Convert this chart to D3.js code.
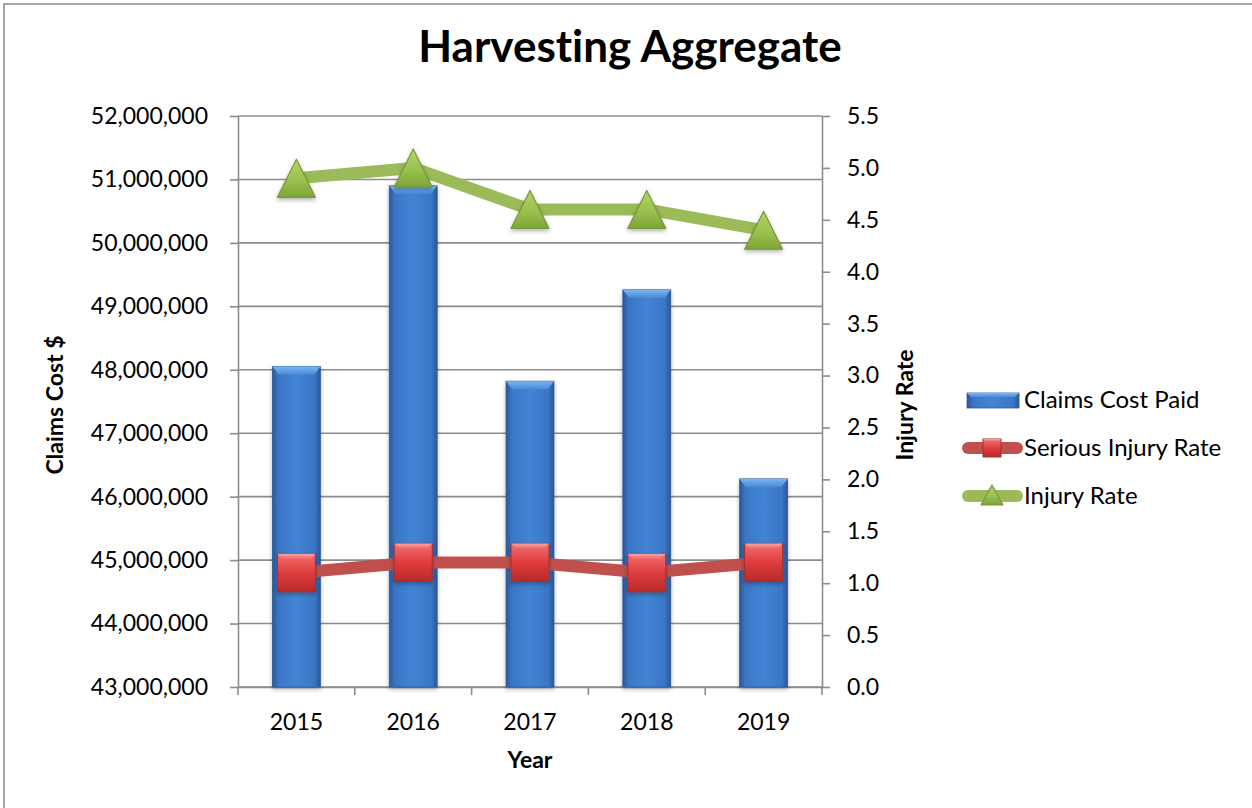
<!DOCTYPE html>
<html>
<head>
<meta charset="utf-8">
<title>Harvesting Aggregate</title>
<script src="https://cdnjs.cloudflare.com/ajax/libs/d3/7.8.5/d3.min.js"></script>
<style>
  html, body { margin: 0; padding: 0; background: #fff; }
  svg { display: block; font-family: Lato, "Open Sans", sans-serif; font-variant-ligatures: none; }
</style>
</head>
<body>
<div id="chart"></div>
<script>
// Chart data
var years = ["2015", "2016", "2017", "2018", "2019"];
var claimsCost = [48050000, 50900000, 47820000, 49260000, 46280000];
var seriousRate = [1.1, 1.2, 1.2, 1.1, 1.2];
var injuryRate = [4.9, 5.0, 4.6, 4.6, 4.4];

// Tick labels
var costTicks = [43000000, 44000000, 45000000, 46000000, 47000000, 48000000, 49000000, 50000000, 51000000, 52000000];
var rateTicks = [0, 0.5, 1.0, 1.5, 2.0, 2.5, 3.0, 3.5, 4.0, 4.5, 5.0, 5.5];

var legendNames = ["Claims Cost Paid", "Serious Injury Rate", "Injury Rate"];

var width = 1252,
    height = 808;

// plot area edges
var plotLeft = 238, plotRight = 822, plotTop = 116, plotBottom = 687;
var gridColor = "#8c8c8c";

var svg = d3.select("#chart")
            .append("svg")
            .attr("width", width)
            .attr("height", height);

// Gradients and shadow
var defs = svg.append("defs");

function linGrad(id, horizontal, stops) {
    var g = defs.append("linearGradient")
                .attr("id", id)
                .attr("x1", 0).attr("y1", 0)
                .attr("x2", horizontal ? 1 : 0)
                .attr("y2", horizontal ? 0 : 1);
    stops.forEach(function(s) {
        g.append("stop").attr("offset", s[0]).attr("stop-color", s[1]);
    });
}

linGrad("barGrad", true, [[0, "#2a5897"], [0.12, "#3a76c6"], [0.5, "#4384d4"], [0.88, "#3a76c6"], [1, "#2a5594"]]);
linGrad("barTop", false, [[0, "#7cb4f0"], [1, "#4a8ad8"]]);
linGrad("redGrad", false, [[0, "#f47070"], [0.5, "#de3c3c"], [1, "#b82a2a"]]);
linGrad("redTop", false, [[0, "#f9a4a4"], [1, "#ee6464"]]);
linGrad("greenGrad", false, [[0, "#b4d466"], [0.6, "#98bf4c"], [1, "#7ea436"]]);

var shadow = defs.append("filter")
                 .attr("id", "shadow")
                 .attr("x", "-30%").attr("y", "-30%")
                 .attr("width", "160%").attr("height", "160%");
shadow.append("feDropShadow")
      .attr("dx", 0).attr("dy", 2)
      .attr("stdDeviation", 2)
      .attr("flood-color", "#000")
      .attr("flood-opacity", 0.3);

// Outer chart border
svg.append("rect")
   .attr("x", 4).attr("y", 4)
   .attr("width", width + 20).attr("height", height + 20)
   .attr("fill", "none")
   .attr("stroke", "#8a8a8a")
   .attr("stroke-width", 1.5);

// Scales
var x = d3.scaleBand()
          .domain(years)
          .range([plotLeft, plotRight])
          .paddingInner(0.59)
          .paddingOuter(0.295);

var xEdge = d3.scaleLinear()
              .domain([0, years.length])
              .range([plotLeft, plotRight]);

var yCost = d3.scaleLinear()
              .domain([43000000, 52000000])
              .range([plotBottom, plotTop]);

var yRate = d3.scaleLinear()
              .domain([0, 5.5])
              .range([plotBottom, plotTop]);

// Gridlines
svg.append("g")
   .selectAll("line")
   .data(costTicks)
   .enter().append("line")
   .attr("x1", plotLeft).attr("x2", plotRight)
   .attr("y1", d => yCost(d)).attr("y2", d => yCost(d))
   .attr("stroke", gridColor)
   .attr("stroke-width", 1.6);

// Title
svg.append("text")
   .attr("x", 630).attr("y", 62)
   .attr("text-anchor", "middle")
   .attr("font-size", 44)
   .attr("font-weight", "bold")
   .text("Harvesting Aggregate");

// Axes
function styleAxis(g) {
    g.attr("font-family", null);
    g.selectAll("path, line").attr("stroke", gridColor).attr("stroke-width", 1.6);
    g.selectAll("text").attr("font-size", 23).attr("fill", "#000");
}

svg.append("g")
   .attr("transform", "translate(" + plotLeft + ",0)")
   .call(d3.axisLeft(yCost)
           .tickValues(costTicks)
           .tickFormat(d3.format(","))
           .tickSize(8)
           .tickSizeOuter(0)
           .tickPadding(22))
   .call(styleAxis);

svg.append("g")
   .attr("transform", "translate(" + plotRight + ",0)")
   .call(d3.axisRight(yRate)
           .tickValues(rateTicks)
           .tickFormat(d3.format(".1f"))
           .tickSize(8)
           .tickSizeOuter(0)
           .tickPadding(17))
   .call(styleAxis);

// Bottom axis: labels at categories, ticks between them
svg.append("g")
   .attr("transform", "translate(0," + plotBottom + ")")
   .call(d3.axisBottom(x)
           .tickSize(0)
           .tickSizeOuter(0)
           .tickPadding(27))
   .call(styleAxis);

svg.append("g")
   .selectAll("line")
   .data(d3.range(years.length + 1))
   .enter().append("line")
   .attr("x1", d => xEdge(d)).attr("x2", d => xEdge(d))
   .attr("y1", plotBottom).attr("y2", plotBottom + 8)
   .attr("stroke", gridColor)
   .attr("stroke-width", 1.6);

// Axis titles
svg.append("text")
   .attr("transform", "translate(55,405) rotate(-90)")
   .attr("text-anchor", "middle")
   .attr("dy", "0.35em")
   .attr("font-size", 23)
   .attr("font-weight", "bold")
   .text("Claims Cost $");

svg.append("text")
   .attr("transform", "translate(905,405) rotate(-90)")
   .attr("text-anchor", "middle")
   .attr("dy", "0.35em")
   .attr("font-size", 23)
   .attr("font-weight", "bold")
   .text("Injury Rate");

svg.append("text")
   .attr("x", 530).attr("y", 768)
   .attr("text-anchor", "middle")
   .attr("font-size", 23)
   .attr("font-weight", "bold")
   .text("Year");

// Bars
var bw = x.bandwidth();
var bars = svg.append("g")
              .selectAll("g")
              .data(years)
              .enter().append("g")
              .attr("filter", "url(#shadow)");

bars.append("rect")
    .attr("x", d => x(d))
    .attr("y", (d, i) => yCost(claimsCost[i]))
    .attr("width", bw)
    .attr("height", (d, i) => plotBottom - yCost(claimsCost[i]))
    .attr("fill", "url(#barGrad)")
    .attr("stroke", "#2b5a98")
    .attr("stroke-width", 0.8);

bars.append("path")
    .attr("d", function(d, i) {
        var x0 = x(d), y0 = yCost(claimsCost[i]);
        return "M" + x0 + "," + y0 + "L" + (x0 + bw) + "," + y0 +
               "L" + (x0 + bw - 6) + "," + (y0 + 8) + "L" + (x0 + 6) + "," + (y0 + 8) + "Z";
    })
    .attr("fill", "url(#barTop)");

// Lines
var cx = d => x(d) + bw / 2;

var rateLine = d3.line()
                 .x((d, i) => cx(years[i]))
                 .y(d => yRate(d));

svg.append("path")
   .datum(seriousRate)
   .attr("d", rateLine)
   .attr("fill", "none")
   .attr("stroke", "#c0504d")
   .attr("stroke-width", 12)
   .attr("stroke-linejoin", "round");

svg.append("path")
   .datum(injuryRate)
   .attr("d", rateLine)
   .attr("fill", "none")
   .attr("stroke", "#9bbb59")
   .attr("stroke-width", 12)
   .attr("stroke-linejoin", "round");

// Markers
function squareMarker(g, px, py, s) {
    g.append("rect")
     .attr("x", px - s / 2).attr("y", py - s / 2)
     .attr("width", s).attr("height", s)
     .attr("fill", "url(#redGrad)")
     .attr("stroke", "#a33030")
     .attr("stroke-width", 1);
    var b = s * 0.14;
    g.append("path")
     .attr("d", "M" + (px - s / 2) + "," + (py - s / 2) + "h" + s +
                "l" + (-b) + "," + b + "h" + (-(s - 2 * b)) + "Z")
     .attr("fill", "url(#redTop)");
}

function triangleMarker(g, px, py, w, h) {
    g.append("path")
     .attr("d", "M" + px + "," + (py - h / 2) +
                "L" + (px + w / 2) + "," + (py + h / 2) +
                "L" + (px - w / 2) + "," + (py + h / 2) + "Z")
     .attr("fill", "url(#greenGrad)")
     .attr("stroke", "#76983a")
     .attr("stroke-width", 1.2)
     .attr("stroke-linejoin", "round");
}

var markers = svg.append("g").attr("filter", "url(#shadow)");
seriousRate.forEach(function(v, i) {
    squareMarker(markers, cx(years[i]), yRate(v), 38);
});
injuryRate.forEach(function(v, i) {
    triangleMarker(markers, cx(years[i]), yRate(v), 38, 38);
});

// Legend
var legend = svg.append("g");
var rowY = [400, 448, 496];

legend.append("rect")
      .attr("x", 967).attr("y", rowY[0] - 7)
      .attr("width", 52).attr("height", 15)
      .attr("fill", "url(#barGrad)")
      .attr("stroke", "#2b5a98")
      .attr("stroke-width", 0.8);
legend.append("path")
      .attr("d", "M967," + (rowY[0] - 7) + "h52l-4,4h-44Z")
      .attr("fill", "url(#barTop)");

legend.append("line")
      .attr("x1", 968).attr("x2", 1017)
      .attr("y1", rowY[1]).attr("y2", rowY[1])
      .attr("stroke", "#c0504d")
      .attr("stroke-width", 12)
      .attr("stroke-linecap", "round");
squareMarker(legend, 992, rowY[1], 18);

legend.append("line")
      .attr("x1", 968).attr("x2", 1017)
      .attr("y1", rowY[2]).attr("y2", rowY[2])
      .attr("stroke", "#9bbb59")
      .attr("stroke-width", 12)
      .attr("stroke-linecap", "round");
triangleMarker(legend, 992, rowY[2] - 1, 22, 20);

legend.selectAll("text")
      .data(legendNames)
      .enter().append("text")
      .attr("x", 1024)
      .attr("y", (d, i) => rowY[i])
      .attr("dy", "0.35em")
      .attr("font-size", 24)
      .text(d => d);
</script>
</body>
</html>
